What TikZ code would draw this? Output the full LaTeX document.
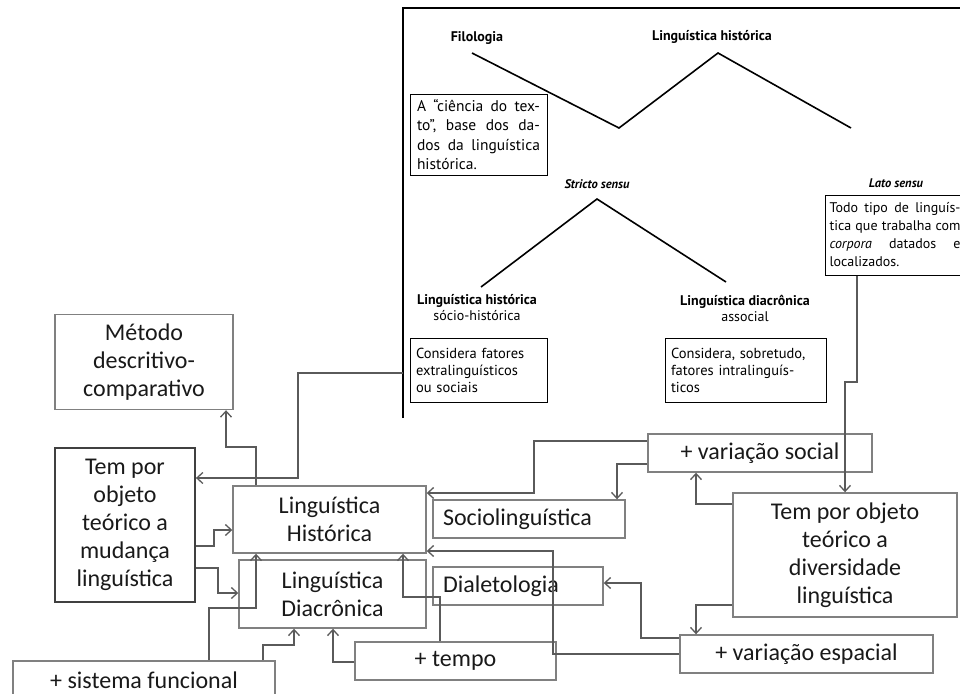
\documentclass[tikz,border=0pt]{standalone}
\usepackage{fontspec}
\setmainfont{Carlito}
\newfontfamily\bookfont{PT Sans}
\usetikzlibrary{arrows.meta}
\definecolor{boxgray}{HTML}{808080}
\definecolor{linegray}{HTML}{5A5A5A}
\newcommand{\jline}[2]{\leavevmode\hbox to #1{#2}}

\begin{document}
\begin{tikzpicture}[x=1pt,y=-1pt,
    mainbox/.style={draw=boxgray, line width=1.4pt, inner sep=0pt, align=center,
      text=black!90, font=\fontsize{24}{28}\selectfont},
    conn/.style={draw=linegray, line width=1.4pt,
      -{Straight Barb[length=6pt,width=11pt,line width=1.3pt]}},
    bookbox/.style={draw=black, line width=1pt, inner sep=0pt,
      font=\bookfont\fontsize{14.5}{17}\selectfont},
    booklabel/.style={font=\bookfont\fontsize{14}{16}\selectfont, align=center},
    tree/.style={draw=black, line width=1.6pt}]
  \useasboundingbox (0,0) rectangle (960,693);

  \draw[black, line width=1.2pt] (403,418) -- (403,8) -- (965,8);

  \node[booklabel] (filologia) at (477,38) {\bfseries Filologia};
  \node[booklabel] (lhist) at (712,37) {\bfseries Linguística histórica};
  \draw[tree] (472,53) -- (619,128) -- (718,53) -- (851,128);

  \node[bookbox, minimum width=137pt, minimum height=81pt,
    font=\bookfont\fontsize{15.5}{19.5}\selectfont, text width=123pt, align=left] (ciencia) at (478.5,134.5)
    {\jline{123pt}{A\hfill “ciência\hfill do\hfill tex-}\\
     \jline{123pt}{to”,\hfill base\hfill dos\hfill da-}\\
     \jline{123pt}{dos\hfill da\hfill linguística}\\
     histórica.};

  \node[booklabel, font=\bookfont\fontsize{12.5}{15}\selectfont] (stricto) at (597,184) {\bfseries\itshape Stricto sensu};
  \node[booklabel, font=\bookfont\fontsize{12.5}{15}\selectfont] (lato) at (896,183) {\bfseries\itshape Lato sensu};
  \draw[tree] (481,287) -- (597,199) -- (726,282);

  \node[booklabel] (sociohist) at (477,308) {\bfseries Linguística histórica\\sócio-histórica};
  \node[booklabel] (diacrassoc) at (745,308) {\bfseries Linguística diacrônica\\associal};

  \node[bookbox, minimum width=137pt, minimum height=64pt, text width=125pt, align=left] (consfat) at (478.5,370)
    {Considera fatores\\extralinguísticos\\ou sociais};
  \node[bookbox, minimum width=161pt, minimum height=64pt, text width=149pt, align=left] (conssob) at (745.5,370)
    {Considera, sobretudo,\\fatores intralinguís-\\ticos};
  \node[bookbox, minimum width=140pt, minimum height=80pt, text width=131pt, align=left,
    font=\bookfont\fontsize{14}{18}\selectfont] (todo) at (895,235)
    {\jline{131pt}{Todo\hfill tipo\hfill de\hfill linguís-}\\
     \jline{131pt}{tica\hfill que\hfill trabalha\hfill com}\\
     \jline{131pt}{\textit{corpora}\hfill datados\hfill e}\\
     localizados.};

  \node[mainbox, minimum width=178pt, minimum height=95pt] (metodo) at (144,362) {Método\\descritivo-\\comparativo};
  \node[mainbox, draw=black!75, line width=1.8pt, minimum width=140pt, minimum height=154pt] (teml) at (125,525)
    {Tem por\\objeto\\teórico a\\mudança\\linguística};
  \node[mainbox, minimum width=193pt, minimum height=67pt] (lh) at (329.5,519.5) {Linguística\\Histórica};
  \node[mainbox, minimum width=187pt, minimum height=68pt] (ld) at (332.5,594) {Linguística\\Diacrônica};
  \node[mainbox, minimum width=262pt, minimum height=39pt] (sist) at (144,680.5) {+ sistema funcional};
  \node[mainbox, minimum width=201pt, minimum height=38pt] (tempo) at (455.5,661) {+ tempo};
  \node[mainbox, minimum height=38pt, inner xsep=10pt, text width=172pt, align=left] (socio) at (529,519) {Sociolinguística};
  \node[mainbox, minimum height=38pt, inner xsep=10pt, text width=150pt, align=left] (dial) at (518,586) {Dialetologia};
  \node[mainbox, minimum width=224pt, minimum height=38pt] (vsoc) at (760,453) {+ variação social};
  \node[mainbox, minimum width=224pt, minimum height=124pt] (temr) at (845,555)
    {Tem por objeto\\teórico a\\diversidade\\linguística};
  \node[mainbox, minimum width=253pt, minimum height=38pt] (vesp) at (806.5,654) {+ variação espacial};

  \draw[conn] (lh.north -| 256,0) |- (226,447) -- (metodo.south -| 226,0);
  \draw[conn] (403,373) -| (298,478) -- (teml.east |- 0,478);
  \draw[conn] (teml.east |- 0,546) -| (214,530) -- (lh.west |- 0,530);
  \draw[conn] (teml.east |- 0,568) -| (218,593) -- (ld.west |- 0,593);
  \draw[conn] (sist.north -| 209,0) |- (256,608) -- (lh.south -| 256,0);
  \draw[conn] (sist.north -| 263,0) |- (294,645) -- (ld.south -| 294,0);
  \draw[conn] (tempo.west |- 0,662) -| (ld.south -| 333,0);
  \draw[conn] (tempo.north -| 440,0) |- (403,597) -- (lh.south -| 403,0);
  \draw[conn] (vsoc.west |- 0,441) -| (534,493) -- (lh.east |- 0,493);
  \draw[conn] (vsoc.west |- 0,464) -| (socio.north -| 617,0);
  \draw[conn] (temr.west |- 0,504) -| (vsoc.south -| 696,0);
  \draw[conn] (temr.west |- 0,605) -| (vesp.north -| 696,0);
  \draw[conn] (vesp.west |- 0,638) -| (641,583) -- (dial.east |- 0,583);
  \draw[conn] (vesp.west |- 0,654) -| (553,551) -- (lh.east |- 0,551);
  \draw[conn, line width=1.1pt] (todo.south -| 857,0) |- (845,382) -- (temr.north -| 845,0);
\end{tikzpicture}
\end{document}
